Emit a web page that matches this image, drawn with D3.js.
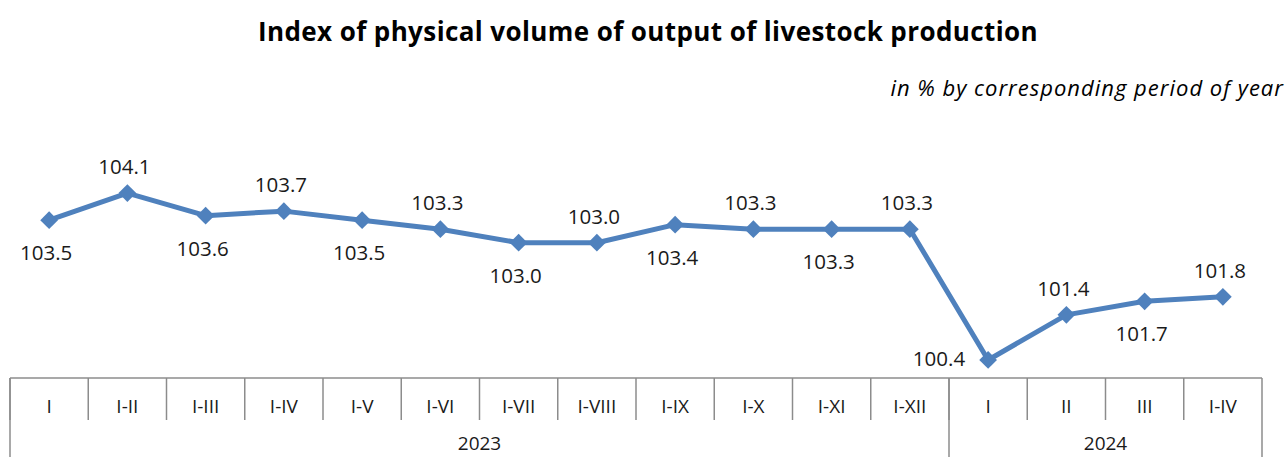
<!DOCTYPE html>
<html>
<head>
<meta charset="utf-8">
<script src="https://cdn.jsdelivr.net/npm/d3@7"></script>
<style>
    body { margin: 0; background: #fff; }
    svg { display: block; }
    .title { font-family: "Open Sans", sans-serif; font-weight: bold; font-size: 26px; letter-spacing: 0.4px; }
    .subtitle { font-family: "Open Sans", sans-serif; font-style: italic; font-size: 22px; letter-spacing: 1px; }
    .lbl { font-family: "Open Sans", "Noto Sans", sans-serif; font-size: 20.5px; fill: #1a1a1a; }
    .cat { font-family: "Open Sans", "Noto Sans", sans-serif; font-size: 19px; fill: #1a1a1a; }
</style>
</head>
<body>
<svg id="chart" width="1288" height="457"></svg>
<script>
// Chart data
const categories = ['I', 'I-II', 'I-III', 'I-IV', 'I-V', 'I-VI', 'I-VII', 'I-VIII', 'I-IX', 'I-X', 'I-XI', 'I-XII', 'I', 'II', 'III', 'I-IV'];
const values = [103.5, 104.1, 103.6, 103.7, 103.5, 103.3, 103.0, 103.0, 103.4, 103.3, 103.3, 103.3, 100.4, 101.4, 101.7, 101.8];
// where each label sits relative to its point
const labelPos = ['below', 'above', 'below', 'above', 'below', 'above', 'below', 'above', 'below', 'above', 'below', 'above', 'left', 'above', 'below', 'above'];
const years = ['2023', '2024'];
const yearSpans = [12, 4];

const chart = d3.select('#chart');
const w = 1288;
const left = 10, right = 1262, axisY = 378;

// Scales
const idx = d3.range(categories.length);
const xScale = d3.scaleBand().domain(idx).range([left, right]);
const yScale = d3.scaleLinear().domain([100, 105]).range([axisY, axisY - 5 * 45.1]);
const cx = i => xScale(i) + xScale.bandwidth() / 2;

// Titles
chart.append('text').attr('class', 'title')
    .attr('x', w / 2 + 4).attr('y', 41).attr('text-anchor', 'middle')
    .text('Index of physical volume of output of livestock production');
chart.append('text').attr('class', 'subtitle')
    .attr('x', 1284).attr('y', 96).attr('text-anchor', 'end')
    .text('in % by corresponding period of year');

// Category axis table
const axisColor = '#8c8c8c';
const axis = chart.append('g').attr('stroke', axisColor).attr('stroke-width', 1.5);
axis.append('line').attr('x1', left).attr('x2', right).attr('y1', axisY).attr('y2', axisY);
idx.forEach(i => {
    axis.append('line').attr('x1', xScale(i)).attr('x2', xScale(i))
        .attr('y1', axisY).attr('y2', axisY + 42);
});
// year group separators (full height)
let start = 0;
const groupEdges = [0];
yearSpans.forEach(s => { start += s; groupEdges.push(start); });
groupEdges.forEach(e => {
    const x = e < categories.length ? xScale(e) : right;
    axis.append('line').attr('x1', x).attr('x2', x).attr('y1', axisY).attr('y2', 457);
});

chart.selectAll('text.cat')
    .data(categories)
    .enter()
    .append('text')
        .attr('class', 'cat')
        .attr('x', (d, i) => cx(i))
        .attr('y', 413)
        .attr('text-anchor', 'middle')
        .text(d => d);

years.forEach((yr, k) => {
    const a = groupEdges[k], b = groupEdges[k + 1];
    const x0 = xScale(a);
    const x1 = b < categories.length ? xScale(b) : right;
    chart.append('text').attr('class', 'cat')
        .attr('x', (x0 + x1) / 2).attr('y', 450)
        .attr('text-anchor', 'middle').text(yr);
});

// Line
const blue = '#4f81bd';
const line = d3.line().x((d, i) => cx(i)).y(d => yScale(d));
chart.append('path')
    .datum(values)
    .attr('fill', 'none')
    .attr('stroke', blue)
    .attr('stroke-width', 5)
    .attr('stroke-linejoin', 'round')
    .attr('d', line);

// Diamond markers
chart.selectAll('path.marker')
    .data(values)
    .enter()
    .append('path')
        .attr('class', 'marker')
        .attr('fill', blue)
        .attr('d', d3.symbol().type(d3.symbolDiamond2).size(200))
        .attr('transform', (d, i) => `translate(${cx(i)}, ${yScale(d)})`);

// Value labels
chart.selectAll('text.lbl')
    .data(values)
    .enter()
    .append('text')
        .attr('class', 'lbl')
        .attr('text-anchor', (d, i) => labelPos[i] === 'left' ? 'end' : 'middle')
        .attr('x', (d, i) => labelPos[i] === 'left' ? cx(i) - 23 : cx(i) - 3)
        .attr('y', (d, i) => {
            const y = yScale(d);
            if (labelPos[i] === 'above') return y - 19;
            if (labelPos[i] === 'below') return y + 40;
            return y + 6;
        })
        .text(d => d.toFixed(1));
</script>
</body>
</html>
